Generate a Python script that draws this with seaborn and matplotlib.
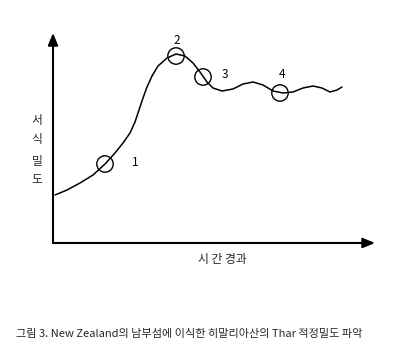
import matplotlib
matplotlib.use("Agg")
import matplotlib.pyplot as plt
import seaborn as sns
import pandas as pd

sns.set_theme(style="white")
plt.rcParams['font.family'] = ['Noto Sans CJK KR', 'DejaVu Sans']

# curve (time, density) in arbitrary units
curve_x = [2, 14, 27, 40, 52, 62, 70, 77, 82, 86, 90, 94, 99, 105, 114, 123, 132, 140,
           147, 154, 160, 169, 180, 190, 200, 210, 220, 230, 240, 250, 260, 269, 277, 284, 289]
curve_y = [48, 53, 60, 68, 79, 90, 100, 110, 121, 133, 145, 156, 167, 177, 185, 189, 187, 180,
           171, 161, 155, 152, 154, 159, 161, 158, 152, 150, 151, 155, 157, 155, 151, 153, 156]

# circled stages
stage_x = [52, 123, 150, 227]
stage_y = [79, 187, 166, 150]
stage_labels = ["1", "2", "3", "4"]
label_x = [82, 124, 172, 229]
label_y = [81, 203, 168, 168]

ylabel_chars = ["서", "식", "밀", "도"]
xlabel = "시 간 경과"
caption = "그림 3. New Zealand의 남부섬에 이식한 히말리아산의 Thar 적정밀도 파악"

W, H = 400, 346
fig = plt.figure(figsize=(W / 100, H / 100), dpi=100)
x0, x1, y0, y1 = 53, 375, 243, 33
ax = fig.add_axes([x0 / W, 1 - y0 / H, (x1 - x0) / W, (y0 - y1) / H])
ax.set_xlim(0, x1 - x0)
ax.set_ylim(0, y0 - y1)
for s in ax.spines.values():
    s.set_visible(False)
ax.set_xticks([])
ax.set_yticks([])
ax.patch.set_alpha(0)

df = pd.DataFrame({"t": curve_x, "d": curve_y})
sns.lineplot(data=df, x="t", y="d", ax=ax, color="black", lw=1.1, sort=False)
sdf = pd.DataFrame({"t": stage_x, "d": stage_y})
sns.scatterplot(data=sdf, x="t", y="d", ax=ax, s=140, facecolor="none",
                edgecolor="black", linewidth=1.0, zorder=5)
ax.set_xlabel("")
ax.set_ylabel("")

for lx, ly, t in zip(label_x, label_y, stage_labels):
    ax.text(lx, ly, t, fontsize=8.5, ha="center", va="center", color="black")

# axes with arrowheads
arrow = dict(arrowstyle="-|>,head_length=0.6,head_width=0.25", color="black", lw=1.5,
             shrinkA=0, shrinkB=0)
ax.annotate("", xy=(x1 - x0, 0), xytext=(0, 0), xycoords="data",
            arrowprops=arrow, annotation_clip=False)
ax.annotate("", xy=(0, y0 - y1), xytext=(0, 0), xycoords="data",
            arrowprops=arrow, annotation_clip=False)

for ch, py in zip(ylabel_chars, [120, 140, 161, 180]):
    fig.text(37 / W, 1 - py / H, ch, fontsize=8.5, ha="center", va="center")

fig.text(222 / W, 1 - 260 / H, xlabel, fontsize=8.5, ha="center", va="center")
fig.text(16 / W, 1 - 334 / H, caption, fontsize=8, ha="left", va="center")

fig.savefig("out.png", dpi=100, facecolor="white")
